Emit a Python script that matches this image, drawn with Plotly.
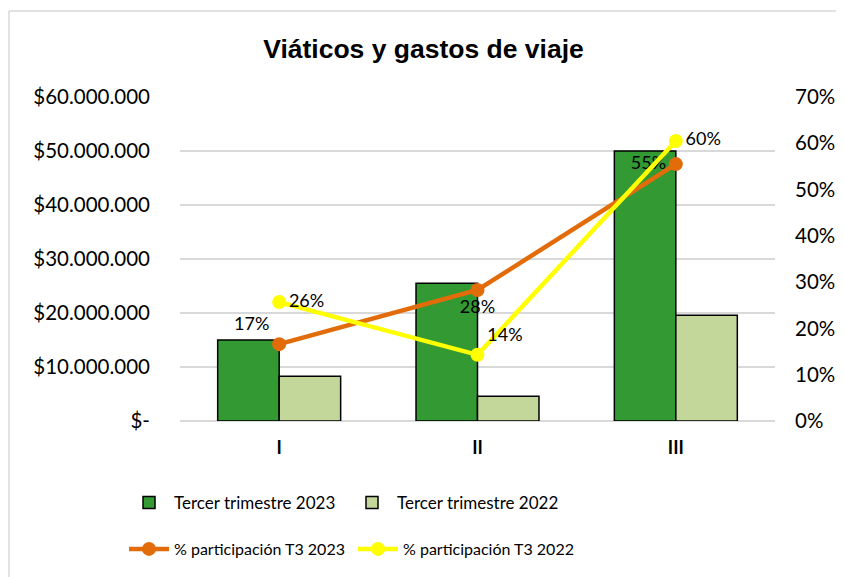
import plotly.graph_objects as go

categorias = ["I", "II", "III"]
t3_2023 = [15000000, 25500000, 50000000]
t3_2022 = [8300000, 4600000, 19600000]
part_2023 = [0.166, 0.283, 0.555]
part_2022 = [0.257, 0.143, 0.605]
etiq_2023 = ["17%", "28%", "55%"]
etiq_2022 = ["26%", "14%", "60%"]

ticks_izq = [0, 10000000, 20000000, 30000000, 40000000, 50000000, 60000000]
ticks_izq_txt = ["$-", "$10.000.000", "$20.000.000", "$30.000.000",
                 "$40.000.000", "$50.000.000", "$60.000.000"]
ticks_der = [0, 0.1, 0.2, 0.3, 0.4, 0.5, 0.6, 0.7]

fuente = "Lato"

# la pagina tiene 8px de margen en el body, asi que se descuentan aqui
W, H = 836, 569
L, R, T, B = 172, 767, 89, 413  # area de trazado en px de la figura
PW, PH = R - L, B - T


def px_x(x):
    return (x - 8 - L) / PW


def px_y(y):
    return (B - (y - 8)) / PH


fig = go.Figure()
fig.add_trace(go.Bar(x=categorias, y=t3_2023, name="Tercer trimestre 2023",
                     marker=dict(color="#339933", line=dict(color="black", width=1.5)),
                     legend="legend"))
fig.add_trace(go.Bar(x=categorias, y=t3_2022, name="Tercer trimestre 2022",
                     marker=dict(color="#C4D79B", line=dict(color="black", width=1.5)),
                     legend="legend"))
fig.add_trace(go.Scatter(x=categorias, y=part_2023, name="% participación T3 2023",
                         yaxis="y2", mode="lines+markers+text",
                         line=dict(color="#E36C0A", width=4.5),
                         marker=dict(size=14, color="#E36C0A"),
                         text=etiq_2023,
                         textposition=["top left", "bottom center", "middle left"],
                         textfont=dict(family=fuente, size=18, color="black"),
                         legend="legend2"))
fig.add_trace(go.Scatter(x=categorias, y=part_2022, name="% participación T3 2022",
                         yaxis="y2", mode="lines+markers+text",
                         line=dict(color="#FFFF00", width=4.5),
                         marker=dict(size=14, color="#FFFF00"),
                         text=etiq_2022,
                         textposition=["middle right", "top right", "middle right"],
                         textfont=dict(family=fuente, size=18, color="black"),
                         legend="legend2"))

fig.update_layout(
    width=W, height=H,
    margin=dict(l=L, r=W - R, t=T, b=H - B, autoexpand=False),
    paper_bgcolor="white", plot_bgcolor="white",
    barmode="group", bargap=0.38, bargroupgap=0,
    font=dict(family=fuente, size=18, color="black"),
    title=dict(text="<b>Viáticos y gastos de viaje</b>", x=(423.5 - 8) / W,
               xanchor="center", y=1 - (49 - 8) / H, yanchor="middle",
               font=dict(family="Liberation Sans", size=26.5, color="black")),
    xaxis=dict(showgrid=False, showline=False, ticks="", automargin=False,
               ticklabelstandoff=14,
               tickfont=dict(family=fuente, size=18, color="black", weight="bold")),
    yaxis=dict(range=[0, 60000000], tickvals=ticks_izq, ticktext=ticks_izq_txt,
               showgrid=True, gridcolor="#D9D9D9", gridwidth=1.5, automargin=False,
               zeroline=True, zerolinecolor="#D9D9D9", zerolinewidth=1.5,
               ticklabelstandoff=29, tickfont=dict(size=20.5)),
    yaxis2=dict(range=[0, 0.7], tickvals=ticks_der, tickformat=".0%",
                overlaying="y", side="right", showgrid=False, zeroline=False,
                automargin=False, ticklabelstandoff=19, tickfont=dict(size=20.5)),
    legend=dict(orientation="h", x=px_x(124), xanchor="left",
                y=px_y(503), yanchor="middle",
                font=dict(size=17), traceorder="normal", itemwidth=40,
                entrywidth=168),
    legend2=dict(orientation="h", x=px_x(124), xanchor="left",
                 y=px_y(549), yanchor="middle",
                 font=dict(size=16), traceorder="normal", itemwidth=40,
                 entrywidth=174),
    shapes=[
        dict(type="line", xref="paper", yref="paper", x0=px_x(9), x1=px_x(9),
             y0=-0.6, y1=px_y(11), line=dict(color="#D9D9D9", width=1.5)),
        dict(type="line", xref="paper", yref="paper", x0=px_x(9), x1=1.2,
             y0=px_y(11), y1=px_y(11), line=dict(color="#D9D9D9", width=1.5)),
    ],
)

fig.write_html("out.html")
